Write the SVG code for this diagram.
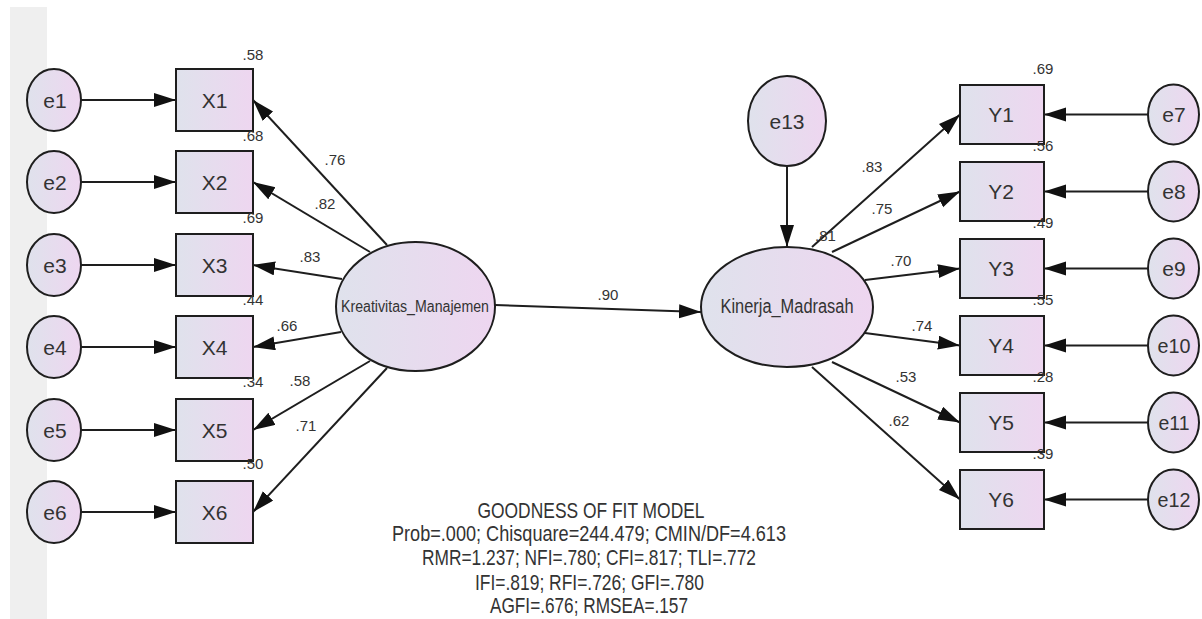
<svg xmlns="http://www.w3.org/2000/svg" width="1202" height="619" viewBox="0 0 1202 619">
<style>
.node{fill:url(#g);stroke:#1e1e1e;stroke-width:2}
.lbl{font-family:"Liberation Sans",Arial,sans-serif;font-size:21px;fill:#333;text-anchor:middle}
.val{font-family:"Liberation Sans",Arial,sans-serif;font-size:15px;fill:#333;text-anchor:middle}
.fit{font-family:"Liberation Sans",Arial,sans-serif;font-size:22px;fill:#333;text-anchor:middle}
.c line{stroke:#1e1e1e;stroke-width:2;marker-end:url(#ah)}
</style>
<defs>
<linearGradient id="g" x1="0" y1="0" x2="1" y2="0">
<stop offset="0" stop-color="#dfe2ec"/>
<stop offset="1" stop-color="#eed6f0"/>
</linearGradient>
<marker id="ah" markerUnits="userSpaceOnUse" markerWidth="24" markerHeight="16" refX="22" refY="7" orient="auto">
<path d="M0,0 L22,7 L0,14 Z" fill="#111"/>
</marker>
</defs>
<rect width="1202" height="619" fill="#fff"/>
<rect x="10" y="7" width="37" height="612" fill="#efefef"/>

<g id="connectors" class="c">
<line x1="81" y1="100" x2="176" y2="100"/>
<line x1="81" y1="182" x2="176" y2="182"/>
<line x1="81" y1="265" x2="176" y2="265"/>
<line x1="81" y1="347" x2="176" y2="347"/>
<line x1="81" y1="430" x2="176" y2="430"/>
<line x1="81" y1="512" x2="176" y2="512"/>
<line x1="387" y1="245" x2="253" y2="100"/>
<line x1="370" y1="252" x2="253" y2="182"/>
<line x1="342" y1="279" x2="253" y2="265"/>
<line x1="341" y1="332" x2="253" y2="347"/>
<line x1="370" y1="361" x2="253" y2="430"/>
<line x1="387" y1="368" x2="253" y2="512"/>
<line x1="495" y1="305" x2="701" y2="312"/>
<line x1="787" y1="166" x2="787" y2="247"/>
<line x1="812" y1="247" x2="960" y2="114.5"/>
<line x1="832" y1="252" x2="960" y2="191.5"/>
<line x1="865" y1="280" x2="960" y2="268.5"/>
<line x1="865" y1="333" x2="960" y2="345.5"/>
<line x1="832" y1="362" x2="960" y2="422.5"/>
<line x1="812" y1="367" x2="960" y2="499.5"/>
<line x1="1148" y1="114.5" x2="1044" y2="114.5"/>
<line x1="1148" y1="191.5" x2="1044" y2="191.5"/>
<line x1="1148" y1="268.5" x2="1044" y2="268.5"/>
<line x1="1148" y1="345.5" x2="1044" y2="345.5"/>
<line x1="1148" y1="422.5" x2="1044" y2="422.5"/>
<line x1="1148" y1="499.5" x2="1044" y2="499.5"/>
</g>

<g id="connector-labels">
<text class="val" x="335" y="165">.76</text>
<text class="val" x="325" y="209">.82</text>
<text class="val" x="310" y="262">.83</text>
<text class="val" x="287" y="331">.66</text>
<text class="val" x="300" y="386">.58</text>
<text class="val" x="306" y="431">.71</text>
<text class="val" x="608" y="300">.90</text>
<text class="val" x="872" y="172">.83</text>
<text class="val" x="882" y="214">.75</text>
<text class="val" x="901" y="266">.70</text>
<text class="val" x="922" y="331">.74</text>
<text class="val" x="906" y="382">.53</text>
<text class="val" x="899" y="426">.62</text>
</g>

<g id="e1"><ellipse class="node" cx="54" cy="100" rx="27" ry="31"/><text class="lbl" x="55" y="108">e1</text></g>
<g id="e2"><ellipse class="node" cx="54" cy="182" rx="27" ry="31"/><text class="lbl" x="55" y="190">e2</text></g>
<g id="e3"><ellipse class="node" cx="54" cy="265" rx="27" ry="31"/><text class="lbl" x="55" y="273">e3</text></g>
<g id="e4"><ellipse class="node" cx="54" cy="347" rx="27" ry="31"/><text class="lbl" x="55" y="355">e4</text></g>
<g id="e5"><ellipse class="node" cx="54" cy="430" rx="27" ry="31"/><text class="lbl" x="55" y="438">e5</text></g>
<g id="e6"><ellipse class="node" cx="54" cy="512" rx="27" ry="31"/><text class="lbl" x="55" y="520">e6</text></g>

<g id="X1"><rect class="node" x="176" y="69" width="77" height="62"/><text class="lbl" x="214.5" y="108">X1</text><text class="val" x="253" y="60">.58</text></g>
<g id="X2"><rect class="node" x="176" y="151" width="77" height="62"/><text class="lbl" x="214.5" y="190">X2</text><text class="val" x="253" y="141">.68</text></g>
<g id="X3"><rect class="node" x="176" y="234" width="77" height="62"/><text class="lbl" x="214.5" y="273">X3</text><text class="val" x="253" y="223">.69</text></g>
<g id="X4"><rect class="node" x="176" y="316" width="77" height="62"/><text class="lbl" x="214.5" y="355">X4</text><text class="val" x="253" y="305">.44</text></g>
<g id="X5"><rect class="node" x="176" y="399" width="77" height="62"/><text class="lbl" x="214.5" y="438">X5</text><text class="val" x="253" y="387">.34</text></g>
<g id="X6"><rect class="node" x="176" y="481" width="77" height="62"/><text class="lbl" x="214.5" y="520">X6</text><text class="val" x="253" y="469">.50</text></g>

<g id="Kreativitas_Manajemen"><ellipse class="node" cx="415.5" cy="306.5" rx="79.5" ry="64.5"/><text class="lbl" x="415" y="312" style="font-size:16px" textLength="148" lengthAdjust="spacingAndGlyphs">Kreativitas_Manajemen</text></g>

<g id="Kinerja_Madrasah"><ellipse class="node" cx="787" cy="307" rx="86" ry="60"/><text class="lbl" x="787" y="313" style="font-size:20px" textLength="133" lengthAdjust="spacingAndGlyphs">Kinerja_Madrasah</text><text class="val" x="815" y="241" style="text-anchor:start">.81</text></g>

<g id="e13"><ellipse class="node" cx="787" cy="121" rx="39" ry="45"/><text class="lbl" x="787" y="129">e13</text></g>

<g id="Y1"><rect class="node" x="960" y="85" width="84" height="59"/><text class="lbl" x="1001" y="122">Y1</text><text class="val" x="1043" y="74">.69</text></g>
<g id="Y2"><rect class="node" x="960" y="162" width="84" height="59"/><text class="lbl" x="1001" y="199">Y2</text><text class="val" x="1043" y="151">.56</text></g>
<g id="Y3"><rect class="node" x="960" y="239" width="84" height="59"/><text class="lbl" x="1001" y="276">Y3</text><text class="val" x="1043" y="228">.49</text></g>
<g id="Y4"><rect class="node" x="960" y="316" width="84" height="59"/><text class="lbl" x="1001" y="353">Y4</text><text class="val" x="1043" y="305">.55</text></g>
<g id="Y5"><rect class="node" x="960" y="393" width="84" height="59"/><text class="lbl" x="1001" y="430">Y5</text><text class="val" x="1043" y="382">.28</text></g>
<g id="Y6"><rect class="node" x="960" y="470" width="84" height="59"/><text class="lbl" x="1001" y="507">Y6</text><text class="val" x="1043" y="459">.39</text></g>

<g id="e7"><ellipse class="node" cx="1173.5" cy="114.5" rx="25.5" ry="30"/><text class="lbl" x="1174" y="122">e7</text></g>
<g id="e8"><ellipse class="node" cx="1173.5" cy="191.5" rx="25.5" ry="30"/><text class="lbl" x="1174" y="199">e8</text></g>
<g id="e9"><ellipse class="node" cx="1173.5" cy="268.5" rx="25.5" ry="30"/><text class="lbl" x="1174" y="276">e9</text></g>
<g id="e10"><ellipse class="node" cx="1173.5" cy="345.5" rx="25.5" ry="30"/><text class="lbl" x="1174" y="353" textLength="33" lengthAdjust="spacingAndGlyphs">e10</text></g>
<g id="e11"><ellipse class="node" cx="1173.5" cy="422.5" rx="25.5" ry="30"/><text class="lbl" x="1174" y="430" textLength="31" lengthAdjust="spacingAndGlyphs">e11</text></g>
<g id="e12"><ellipse class="node" cx="1173.5" cy="499.5" rx="25.5" ry="30"/><text class="lbl" x="1174" y="507" textLength="33" lengthAdjust="spacingAndGlyphs">e12</text></g>

<g id="fit-summary">
<text class="fit" x="591" y="518" textLength="227" lengthAdjust="spacingAndGlyphs">GOODNESS OF FIT MODEL</text>
<text class="fit" x="589" y="541" textLength="394" lengthAdjust="spacingAndGlyphs">Prob=.000; Chisquare=244.479; CMIN/DF=4.613</text>
<text class="fit" x="589" y="565" textLength="334" lengthAdjust="spacingAndGlyphs">RMR=1.237; NFI=.780; CFI=.817; TLI=.772</text>
<text class="fit" x="589.5" y="590" textLength="229" lengthAdjust="spacingAndGlyphs">IFI=.819; RFI=.726; GFI=.780</text>
<text class="fit" x="589" y="613" textLength="198" lengthAdjust="spacingAndGlyphs">AGFI=.676; RMSEA=.157</text>
</g>
</svg>
